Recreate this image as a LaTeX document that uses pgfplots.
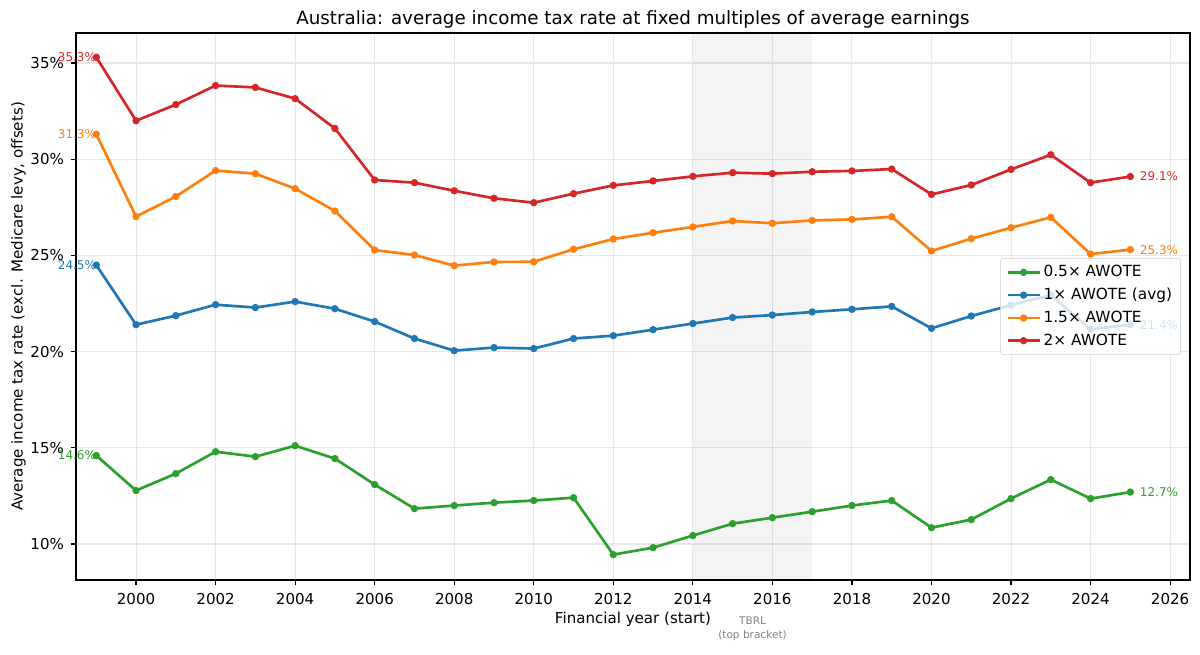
\documentclass[border=0pt]{standalone}
\usepackage{fontspec}
\setmainfont{DejaVu Sans}
\usepackage{pgfplots}
\pgfplotsset{compat=1.18}
\definecolor{cgreen}{HTML}{2CA02C}
\definecolor{cblue}{HTML}{1F77B4}
\definecolor{corange}{HTML}{FF7F0E}
\definecolor{cred}{HTML}{D62728}
\definecolor{gridc}{HTML}{E6E6E6}
\definecolor{tgray}{HTML}{808080}
\begin{document}
\begin{tikzpicture}
\useasboundingbox (-57pt,-55.5pt) rectangle (843pt,435pt);
\begin{axis}[
  at={(0pt,0pt)}, anchor=south west, scale only axis,
  width=835.5pt, height=410.25pt,
  xmin=1998.49, xmax=2026.5, ymin=8.13, ymax=36.56,
  clip=false,
  axis line style={line width=0.9pt},
  xtick={2000,2002,...,2026}, ytick={10,15,...,35},
  /pgf/number format/assume math mode=true,
  /pgf/number format/1000 sep={},
  yticklabel={\pgfmathprintnumber{\tick}\%},
  tick align=outside, tick pos=left, major tick length=4pt,
  tick style={black, line width=0.9pt},
  grid=major, major grid style={gridc, line width=0.8pt},
  tick label style={font=\fontsize{11.3}{13}\selectfont},
  xticklabel style={yshift=-2.5pt},
  yticklabel style={xshift=-1.5pt},
  title={Australia: average income tax rate at fixed multiples of average earnings},
  every axis title/.style={font=\fontsize{13.7}{16}\selectfont, at={(rel axis cs:0.5,1)}, anchor=base, yshift=6pt},
  xlabel={Financial year (start)},
  xlabel style={font=\fontsize{11.3}{13}\selectfont, at={(rel axis cs:0.5,0)}, anchor=base, yshift=-32.6pt},
  ylabel={Average income tax rate (excl. Medicare levy, offsets)},
  ylabel style={font=\fontsize{11.3}{13}\selectfont, at={([xshift=-40pt]rel axis cs:0,0.5)}, anchor=base},
  legend style={at={(rel axis cs:1,0.5)}, anchor=east, xshift=-6.75pt,
    draw=black!20, fill=white, fill opacity=0.8, draw opacity=1, text opacity=1,
    rounded corners=2.5pt, font=\fontsize{11.5}{13}\selectfont,
    row sep=3pt, inner xsep=4.5pt, inner ysep=3.5pt, cells={anchor=west}},
  legend image code/.code={\draw[mark repeat=2,mark phase=2,#1, fill opacity=1, draw opacity=1] plot coordinates {(0pt,0pt)(12pt,0pt)(24pt,0pt)};},
  every axis plot/.append style={line width=2pt, mark=*, mark size=1.7pt},
]
\addplot[draw=none, fill=black, fill opacity=0.045, mark=none, forget plot]
  coordinates {(2014,8.13) (2017,8.13) (2017,36.56) (2014,36.56)} -- cycle;

\addplot[cgreen] coordinates {
(1999,14.6) (2000,12.78) (2001,13.66) (2002,14.80) (2003,14.54) (2004,15.11)
(2005,14.44) (2006,13.09) (2007,11.84) (2008,12.00) (2009,12.15) (2010,12.26)
(2011,12.41) (2012,9.45) (2013,9.81) (2014,10.44) (2015,11.06) (2016,11.37)
(2017,11.68) (2018,12.00) (2019,12.26) (2020,10.85) (2021,11.27) (2022,12.36)
(2023,13.35) (2024,12.36) (2025,12.7)};
\addlegendentry{0.5× AWOTE}

\addplot[cblue] coordinates {
(1999,24.5) (2000,21.40) (2001,21.87) (2002,22.44) (2003,22.29) (2004,22.60)
(2005,22.23) (2006,21.56) (2007,20.68) (2008,20.05) (2009,20.21) (2010,20.16)
(2011,20.68) (2012,20.83) (2013,21.14) (2014,21.46) (2015,21.77) (2016,21.90)
(2017,22.06) (2018,22.20) (2019,22.35) (2020,21.21) (2021,21.85) (2022,22.42)
(2023,22.94) (2024,21.16) (2025,21.4)};
\addlegendentry{1× AWOTE (avg)}

\addplot[corange] coordinates {
(1999,31.3) (2000,27.02) (2001,28.06) (2002,29.41) (2003,29.25) (2004,28.47)
(2005,27.31) (2006,25.28) (2007,25.02) (2008,24.47) (2009,24.66) (2010,24.67)
(2011,25.32) (2012,25.85) (2013,26.18) (2014,26.48) (2015,26.79) (2016,26.67)
(2017,26.82) (2018,26.87) (2019,27.01) (2020,25.23) (2021,25.87) (2022,26.44)
(2023,26.98) (2024,25.07) (2025,25.3)};
\addlegendentry{1.5× AWOTE}

\addplot[cred] coordinates {
(1999,35.3) (2000,32.00) (2001,32.84) (2002,33.83) (2003,33.73) (2004,33.15)
(2005,31.60) (2006,28.92) (2007,28.78) (2008,28.36) (2009,27.97) (2010,27.74)
(2011,28.21) (2012,28.64) (2013,28.87) (2014,29.11) (2015,29.30) (2016,29.25)
(2017,29.35) (2018,29.39) (2019,29.49) (2020,28.17) (2021,28.66) (2022,29.47)
(2023,30.23) (2024,28.78) (2025,29.1)};
\addlegendentry{2× AWOTE}

\begin{scope}[every node/.style={inner sep=0pt, font=\fontsize{9}{10}\selectfont}]
\node[anchor=east, text=cgreen] at (axis cs:1999,14.6) {14.6\%};
\node[anchor=east, text=cblue] at (axis cs:1999,24.5) {24.5\%};
\node[anchor=east, text=corange] at (axis cs:1999,31.3) {31.3\%};
\node[anchor=east, text=cred] at (axis cs:1999,35.3) {35.3\%};
\node[anchor=west, xshift=7pt, text=cgreen] at (axis cs:2025,12.7) {12.7\%};
\node[anchor=west, xshift=7pt, text=cblue] at (axis cs:2025,21.4) {21.4\%};
\node[anchor=west, xshift=7pt, text=corange] at (axis cs:2025,25.3) {25.3\%};
\node[anchor=west, xshift=7pt, text=cred] at (axis cs:2025,29.1) {29.1\%};
\end{scope}
\node[anchor=north, align=center, inner sep=0pt, text=tgray, font=\fontsize{7.9}{10.5}\selectfont, yshift=-27.75pt]
  at (axis cs:2015.5,8.13) {TBRL\\(top bracket)};
\end{axis}
\end{tikzpicture}
\end{document}
